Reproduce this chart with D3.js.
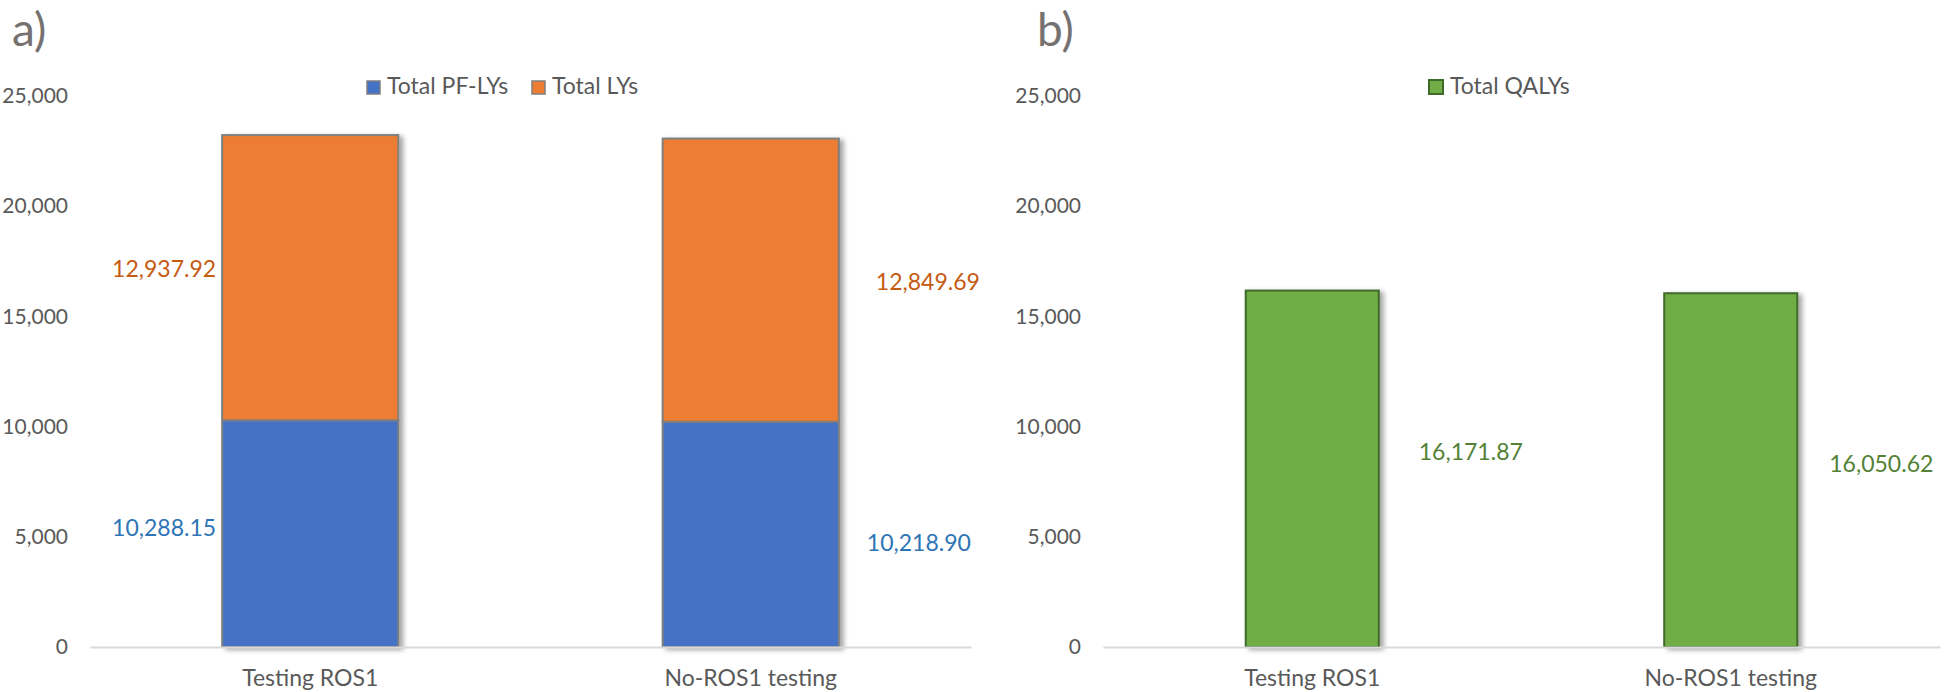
<!DOCTYPE html>
<html>
<head>
<meta charset="utf-8">
<script src="https://cdn.jsdelivr.net/npm/d3@7"></script>
<style>
  html, body { margin: 0; padding: 0; background: #fff; }
  svg { display: block; font-family: Lato, "Open Sans", sans-serif; }
  .tick text { fill: #595959; }
</style>
</head>
<body>
<div id="chart"></div>
<script>
// data
const categories = ["Testing ROS1", "No-ROS1 testing"];
const seriesA = ["Total PF-LYs", "Total LYs"];
const pfLYs = [10288.15, 10218.90];
const totalLYs = [12937.92, 12849.69];
const seriesB = ["Total QALYs"];
const qalys = [16171.87, 16050.62];
const yTicks = [0, 5000, 10000, 15000, 20000, 25000];

const W = 1952, H = 692;
const FONT = 'Lato, "Open Sans", sans-serif';
const fmt = d3.format(",.2f");
const tickFmt = d3.format(",");

const svg = d3.select("#chart").append("svg")
  .attr("width", W)
  .attr("height", H);

// soft shadow like the excel bars
const defs = svg.append("defs");
const shadow = defs.append("filter").attr("id", "shadow")
  .attr("x", "-20%").attr("y", "-20%").attr("width", "140%").attr("height", "140%");
shadow.append("feDropShadow")
  .attr("dx", 4).attr("dy", 2).attr("stdDeviation", 2.5)
  .attr("flood-color", "#000").attr("flood-opacity", 0.35);

// shared value scale
const y = d3.scaleLinear().domain([0, 25000]).range([647, 96]);

function drawPanel(x0, x1, letter, letterX) {
  const g = svg.append("g");
  const x = d3.scaleBand().domain(categories).range([x0, x1]).paddingInner(0).paddingOuter(0);

  g.append("text")
    .attr("x", letterX).attr("y", 46)
    .attr("font-size", 46)
    .attr("fill", "#767171")
    .text(letter);

  g.append("g")
    .attr("transform", `translate(${x0},0)`)
    .call(d3.axisLeft(y).tickValues(yTicks).tickFormat(tickFmt).tickSize(0).tickPadding(22))
    .attr("font-family", FONT)
    .call(a => a.select(".domain").remove())
    .selectAll("text").attr("font-size", 21);

  return { g, x };
}

function categoryAxis(p) {
  p.g.append("g")
    .attr("transform", `translate(0,${y(0)})`)
    .call(d3.axisBottom(p.x).tickSize(0).tickSizeOuter(0).tickPadding(23))
    .attr("font-family", FONT)
    .call(a => a.select(".domain").attr("stroke", "#D9D9D9").attr("stroke-width", 2))
    .selectAll("text").attr("font-size", 23);
}

// ---- panel a) stacked bars ----
const pa = drawPanel(90, 971, "a)", 12);
const stackRows = categories.map((c, i) => ({ cat: c, pf: pfLYs[i], ly: totalLYs[i] }));
const stacked = d3.stack().keys(["pf", "ly"])(stackRows);
const colorA = d3.scaleOrdinal().domain(["pf", "ly"]).range(["#4472C4", "#ED7D31"]);
const labelColorA = { pf: "#2E75B6", ly: "#C55A11" };
const barWA = pa.x.bandwidth() * 0.4;

const layersA = pa.g.append("g").attr("filter", "url(#shadow)");
layersA.selectAll("g").data(stacked).join("g")
  .attr("fill", d => colorA(d.key))
  .selectAll("rect").data(d => d).join("rect")
  .attr("x", d => pa.x(d.data.cat) + (pa.x.bandwidth() - barWA) / 2)
  .attr("width", barWA)
  .attr("y", d => y(d[1]))
  .attr("height", d => y(d[0]) - y(d[1]))
  .attr("stroke", "#7F7F7F")
  .attr("stroke-width", 2);

// excel labels were dragged by hand: first bar on the left, second on the right
const nudgeA = { pf: [-6, 9], ly: [-9, 2] };
const gapA = { pf: [6, 28], ly: [6, 37] };
stacked.forEach(layer => {
  layer.forEach((d, i) => {
    const left = i === 0;
    const bx = pa.x(d.data.cat) + (pa.x.bandwidth() - barWA) / 2;
    pa.g.append("text")
      .attr("x", left ? bx - gapA[layer.key][i] : bx + barWA + gapA[layer.key][i])
      .attr("y", (y(d[0]) + y(d[1])) / 2 + nudgeA[layer.key][i])
      .attr("dy", "0.35em")
      .attr("text-anchor", left ? "end" : "start")
      .attr("font-size", 23)
      .attr("fill", labelColorA[layer.key])
      .text(fmt(d.data[layer.key]));
  });
});

categoryAxis(pa);

// legend a
const legA = pa.g.append("g").attr("transform", "translate(367,81)");
const legAx = [0, 165];
seriesA.forEach((s, i) => {
  const it = legA.append("g").attr("transform", `translate(${legAx[i]},0)`);
  it.append("rect").attr("width", 13).attr("height", 13)
    .attr("fill", colorA.range()[i]).attr("stroke", "#7F7F7F").attr("stroke-width", 1.5);
  it.append("text").attr("x", 20).attr("y", 13)
    .attr("font-size", 23).attr("fill", "#595959").text(s);
});

// ---- panel b) QALYs ----
const pb = drawPanel(1103, 1940, "b)", 1037);
const barWB = pb.x.bandwidth() * 0.318;
pb.g.append("g").attr("filter", "url(#shadow)")
  .selectAll("rect").data(qalys).join("rect")
  .attr("x", (d, i) => pb.x(categories[i]) + (pb.x.bandwidth() - barWB) / 2)
  .attr("width", barWB)
  .attr("y", d => y(d))
  .attr("height", d => y(0) - y(d))
  .attr("fill", "#70AD47")
  .attr("stroke", "#3F6B2A")
  .attr("stroke-width", 2);

const gapB = [40, 32];
const nudgeB = [-17, -6];
pb.g.selectAll(".vlab").data(qalys).join("text")
  .attr("class", "vlab")
  .attr("x", (d, i) => pb.x(categories[i]) + (pb.x.bandwidth() + barWB) / 2 + gapB[i])
  .attr("y", (d, i) => (y(0) + y(d)) / 2 + nudgeB[i])
  .attr("dy", "0.35em")
  .attr("font-size", 23)
  .attr("fill", "#538135")
  .text(d => fmt(d));

categoryAxis(pb);

const legB = pb.g.append("g").attr("transform", "translate(1429,80)");
legB.append("rect").attr("width", 14).attr("height", 14)
  .attr("fill", "#70AD47").attr("stroke", "#3F6B2A").attr("stroke-width", 2);
legB.append("text").attr("x", 21).attr("y", 14)
  .attr("font-size", 23).attr("fill", "#595959").text(seriesB[0]);
</script>
</body>
</html>
